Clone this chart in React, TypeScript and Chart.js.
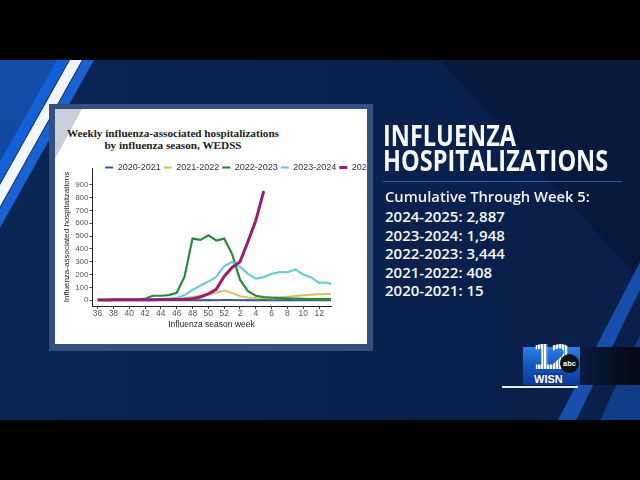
import React, { useEffect, useRef } from "react";
import { Chart, registerables } from "chart.js";
Chart.register(...registerables);

// ---------- data ----------
const weeks = [36, 37, 38, 39, 40, 41, 42, 43, 44, 45, 46, 47, 48, 49, 50, 51, 52, 1, 2, 3, 4, 5, 6, 7, 8, 9, 10, 11, 12, 13, 14];
const xTickLabels = ["36", "38", "40", "42", "44", "46", "48", "50", "52", "2", "4", "6", "8", "10", "12"];
const yTickValues = [0, 100, 200, 300, 400, 500, 600, 700, 800, 900];
const seasons = ["2020-2021", "2021-2022", "2022-2023", "2023-2024", "2024-2025"];

const s2020_21 = [1, 0, 0, 1, 0, 0, 1, 0, 0, 1, 0, 1, 0, 0, 1, 0, 1, 1, 0, 1, 0, 1, 0, 0, 1, 0, 0, 1, 0, 0, 1];
const s2021_22 = [1, 1, 1, 1, 2, 2, 2, 3, 5, 8, 12, 18, 25, 35, 45, 58, 75, 55, 32, 22, 18, 18, 20, 24, 28, 33, 38, 42, 46, 48, 48];
const s2022_23 = [3, 3, 3, 4, 4, 5, 12, 35, 35, 40, 58, 185, 480, 470, 505, 465, 480, 360, 160, 70, 35, 25, 20, 17, 14, 12, 10, 9, 8, 8, 8];
const s2023_24 = [3, 3, 3, 4, 4, 5, 6, 7, 9, 12, 18, 40, 80, 115, 145, 182, 265, 298, 262, 205, 168, 180, 205, 220, 218, 240, 200, 178, 135, 138, 115];
const s2024_25 = [2, 2, 3, 3, 3, 3, 4, 4, 5, 5, 6, 8, 12, 25, 50, 85, 185, 255, 300, 455, 620, 850];

const seriesList = [s2020_21, s2021_22, s2022_23, s2023_24, s2024_25];
const seasonColors = ["#3b5b8c", "#d2c35e", "#2c8a3c", "#6ccbd8", "#9b1f6f"];
const seasonWidths = [2, 2, 2.2, 2.2, 3];

const rightLines = ["2024-2025: 2,887", "2023-2024: 1,948", "2022-2023: 3,444", "2021-2022: 408", "2020-2021: 15"];

// ---------- chart ----------
const CW = 390;
const CH = 235;
const FONT = "'Liberation Sans', Arial, sans-serif";

const legendUnclip = {
  id: "legendUnclip",
  afterLayout(chart: any) {
    const lg = chart.legend;
    if (lg) {
      lg.height = 20;
      lg.bottom = lg.top + 20;
    }
  },
};

function FluChart() {
  const ref = useRef<HTMLCanvasElement | null>(null);
  useEffect(() => {
    const canvas = ref.current;
    if (!canvas) return;
    const tickIdx = xTickLabels.map((l) => weeks.indexOf(Number(l)));
    const chart = new Chart(canvas, {
      type: "line",
      plugins: [legendUnclip],
      data: {
        datasets: seriesList.map((s, k) => ({
          label: seasons[k],
          data: s.map((v, i) => ({ x: i, y: v })),
          borderColor: seasonColors[k],
          backgroundColor: seasonColors[k],
          borderWidth: seasonWidths[k],
          pointRadius: 0,
          tension: 0,
          fill: false,
          order: seriesList.length - k,
          clip: 0,
        })),
      },
      options: {
        responsive: false,
        animation: false,
        devicePixelRatio: 1,
        events: [],
        layout: { padding: { top: 51, left: 0, right: 0, bottom: 0 } },
        plugins: {
          tooltip: { enabled: false },
          title: { display: false },
          legend: {
            display: true,
            position: "top",
            align: "center",
            maxHeight: 8,
            labels: {
              usePointStyle: true,
              pointStyle: "line",
              pointStyleWidth: 8,
              boxHeight: 9,
              padding: 3,
              color: "#333333",
              font: { family: FONT, size: 9 },
              sort: (a: any, b: any) => a.datasetIndex - b.datasetIndex,
            },
          },
        },
        scales: {
          x: {
            type: "linear",
            min: -0.7,
            max: 29.5,
            afterBuildTicks: (s: any) => {
              s.ticks = tickIdx.map((v) => ({ value: v }));
            },
            afterFit: (s: any) => {
              s.height = 38;
            },
            ticks: {
              autoSkip: false,
              maxRotation: 0,
              padding: 0,
              color: "#555555",
              font: { family: FONT, size: 8.5 },
              callback: (v: any) => String(weeks[Math.round(Number(v))]),
            },
            grid: { display: true, drawOnChartArea: false, drawTicks: true, tickLength: 3, color: "#444444" },
            border: { display: true, color: "#222222", width: 1 },
            title: {
              display: true,
              text: "Influenza season week",
              color: "#222222",
              font: { family: FONT, size: 8.5 },
              padding: { top: 0, bottom: 14 },
            },
          },
          y: {
            min: -45,
            max: 1030,
            afterBuildTicks: (s: any) => {
              s.ticks = yTickValues.map((v) => ({ value: v }));
            },
            afterFit: (s: any) => {
              s.width = 37;
            },
            ticks: {
              autoSkip: false,
              padding: 1,
              color: "#555555",
              font: { family: FONT, size: 8 },
            },
            grid: { display: true, drawOnChartArea: false, drawTicks: true, tickLength: 2.5, color: "#444444" },
            border: { display: true, color: "#222222", width: 1 },
            title: {
              display: true,
              text: "Influenza-associated hospitalizations",
              color: "#222222",
              font: { family: FONT, size: 8 },
              padding: { top: 7, bottom: 0 },
            },
          },
          yr: {
            type: "linear",
            position: "right",
            display: true,
            afterFit: (s: any) => {
              s.width = CW - 276;
            },
            grid: { display: false },
            ticks: { display: false },
            border: { display: false },
          },
        },
      } as any,
    });
    return () => chart.destroy();
  }, []);
  return <canvas ref={ref} width={CW} height={CH} style={{ position: "absolute", left: 0, top: 0, width: CW, height: CH }} />;
}

function Poly({ pts, bg, opacity = 1 }: { pts: string; bg: string; opacity?: number }) {
  return (
    <div
      style={{
        position: "absolute",
        left: 0,
        top: 0,
        width: 640,
        height: 480,
        background: bg,
        opacity,
        clipPath: `polygon(${pts})`,
      }}
    />
  );
}

export default function App() {
  useEffect(() => {
    document.body.style.margin = "0";
  }, []);
  return (
    <div style={{ position: "fixed", left: 0, top: 0, width: 640, height: 480, overflow: "hidden", background: "#000" }}>
      {/* main band */}
      <div
        style={{
          position: "absolute",
          left: 0,
          top: 60,
          width: 640,
          height: 360,
          background: "linear-gradient(90deg, #0a2654 0%, #0a2250 45%, #0a1f49 100%)",
        }}
      />
      {/* top-left blue area */}
      <Poly pts="0px 60px, 60px 60px, 0px 168px" bg="linear-gradient(160deg, #1450b0 0%, #0d3a8c 60%, #0b2f73 100%)" />
      {/* stripes */}
      <Poly pts="57px 60px, 69px 60px, -43px 260px, -55px 260px" bg="#1560d6" />
      <Poly pts="70px 60px, 82px 60px, -30px 260px, -42px 260px" bg="#f2f5ff" />
      <Poly pts="83px 60px, 94px 60px, -18px 260px, -29px 260px" bg="#1a62d2" />
      {/* right dark area */}
      <Poly pts="440px 60px, 640px 60px, 640px 280px" bg="#061838" opacity={0.8} />
      {/* bottom-right stripes */}
      <Poly pts="640px 262px, 640px 290px, 576px 420px, 558px 420px" bg="#1b58bd" opacity={0.85} />
      <Poly pts="640px 335px, 640px 420px, 600px 420px" bg="#134390" opacity={0.85} />

      {/* chart panel */}
      <div style={{ position: "absolute", left: 49, top: 104, width: 324, height: 247, background: "#35507e" }} />
      <div style={{ position: "absolute", left: 55, top: 109, width: 312, height: 235, background: "#ffffff", overflow: "hidden" }}>
        <div
          style={{
            position: "absolute",
            left: 0,
            top: 0,
            width: 312,
            height: 235,
            background: "#c9ced8",
            clipPath: "polygon(0px 0px, 27px 0px, 0px 50px)",
          }}
        />
        <div
          style={{
            position: "absolute",
            left: 0,
            top: 19,
            width: 236,
            textAlign: "center",
            fontFamily: "'Liberation Serif', 'Times New Roman', serif",
            fontWeight: 700,
            fontSize: 11.2,
            lineHeight: "11.5px",
            color: "#222",
            whiteSpace: "nowrap",
          }}
        >
          <div>Weekly influenza-associated hospitalizations</div>
          <div>by influenza season, WEDSS</div>
        </div>
        <FluChart />
      </div>

      {/* right text */}
      <div
        style={{
          position: "absolute",
          left: 383,
          top: 122.6,
          fontFamily: "'Open Sans', sans-serif",
          fontWeight: 700,
          fontSize: 28,
          lineHeight: "25px",
          color: "#f6f8fc",
          whiteSpace: "nowrap",
          transform: "scaleX(0.84)",
          transformOrigin: "0 0",
        }}
      >
        <div>INFLUENZA</div>
        <div>HOSPITALIZATIONS</div>
      </div>
      <div style={{ position: "absolute", left: 383, top: 180.5, width: 239, height: 1.5, background: "#2b5fb4" }} />
      <div
        style={{
          position: "absolute",
          left: 385,
          top: 187,
          fontFamily: "'Open Sans', sans-serif",
          fontWeight: 600,
          fontSize: 15,
          lineHeight: "18.6px",
          color: "#f2f4f8",
          whiteSpace: "nowrap",
          transform: "scaleX(0.985)",
          transformOrigin: "0 0",
        }}
      >
        Cumulative Through Week 5:
      </div>
      <div
        style={{
          position: "absolute",
          left: 385,
          top: 207.2,
          fontFamily: "'Open Sans', sans-serif",
          fontWeight: 600,
          fontSize: 15,
          lineHeight: "18.5px",
          color: "#f6f8fc",
          whiteSpace: "nowrap",
        }}
      >
        {rightLines.map((t) => (
          <div key={t}>{t}</div>
        ))}
      </div>

      {/* logo */}
      <div style={{ position: "absolute", left: 578, top: 347, width: 62, height: 38, background: "linear-gradient(90deg, #0b1c40, #03070f)" }} />
      <div
        style={{
          position: "absolute",
          left: 523,
          top: 347,
          width: 57,
          height: 38,
          background: "linear-gradient(180deg, #2f7fe6 0%, #1455c0 50%, #0b3a98 100%)",
        }}
      />
      <div style={{ position: "absolute", left: 502, top: 386, width: 76, height: 2, background: "#e8eef8" }} />
      <div
        style={{
          position: "absolute",
          left: 532,
          top: 339,
          fontFamily: "'DejaVu Sans', sans-serif",
          fontWeight: 700,
          fontSize: 33,
          lineHeight: "38px",
          letterSpacing: -5,
          color: "transparent",
          background: "repeating-linear-gradient(90deg, #ffffff 0px, #ffffff 2px, #6c9be6 2px, #6c9be6 3px)",
          WebkitBackgroundClip: "text",
          backgroundClip: "text",
        }}
      >
        12
      </div>
      <div
        style={{
          position: "absolute",
          left: 560,
          top: 354,
          width: 19,
          height: 19,
          borderRadius: "50%",
          background: "#111",
          color: "#fff",
          fontFamily: FONT,
          fontWeight: 700,
          fontSize: 7.5,
          lineHeight: "19px",
          textAlign: "center",
        }}
      >
        abc
      </div>
      <div
        style={{
          position: "absolute",
          left: 533,
          top: 373,
          fontFamily: FONT,
          fontWeight: 700,
          fontSize: 11,
          lineHeight: "12px",
          color: "#fff",
          background: "#0b3a98",
          padding: "0 1px",
        }}
      >
        WISN
      </div>
    </div>
  );
}
